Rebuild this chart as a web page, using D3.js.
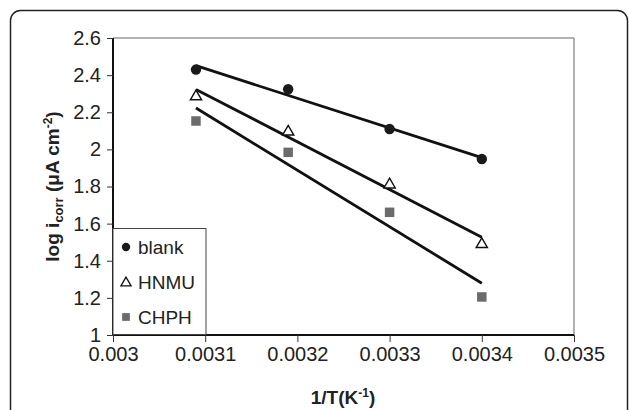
<!DOCTYPE html>
<html>
<head>
<meta charset="utf-8">
<script src="https://cdn.jsdelivr.net/npm/d3@7"></script>
<style>
  body { margin: 0; background: #fff; }
  svg { font-family: "Liberation Sans", Arial, sans-serif; }
</style>
</head>
<body>
<svg width="629" height="410"></svg>
<script>
const invT = [0.00309, 0.00319, 0.0033, 0.0034];
const blank = [2.43, 2.324, 2.11, 1.948];
const hnmu = [2.29, 2.10, 1.815, 1.494];
const chph = [2.153, 1.984, 1.661, 1.205];
const seriesNames = ["blank", "HNMU", "CHPH"];
const xTicks = [0.003, 0.0031, 0.0032, 0.0033, 0.0034, 0.0035];
const yTicks = [1, 1.2, 1.4, 1.6, 1.8, 2, 2.2, 2.4, 2.6];

const svg = d3.select("svg");
const plotL = 113, plotR = 574, plotT = 38, plotB = 335;

// outer frame with rounded corners
svg.append("rect")
  .attr("x", 10.5).attr("y", 10.5)
  .attr("width", 617).attr("height", 430)
  .attr("rx", 10)
  .attr("fill", "none").attr("stroke", "#222").attr("stroke-width", 1.5);

const xScale = d3.scaleLinear().domain([0.003, 0.0035]).range([plotL, plotR]);
const yScale = d3.scaleLinear().domain([1, 2.6]).range([plotB, plotT]);

// plot area border (top / right grey)
svg.append("path")
  .attr("d", `M${plotL},${plotT}H${plotR}V${plotB}`)
  .attr("fill", "none").attr("stroke", "#666").attr("stroke-width", 1);

const xAxis = d3.axisBottom(xScale).tickValues(xTicks).tickSize(7).tickPadding(5)
  .tickFormat(d => String(+d.toFixed(4)));
const yAxis = d3.axisLeft(yScale).tickValues(yTicks).tickSize(6).tickPadding(6)
  .tickFormat(d => String(+d.toFixed(1)));

const gx = svg.append("g").attr("transform", `translate(0,${plotB})`).call(xAxis);
const gy = svg.append("g").attr("transform", `translate(${plotL},0)`).call(yAxis);
[gx, gy].forEach(g => {
  g.select(".domain").attr("stroke", "#111").attr("stroke-width", 2);
  g.selectAll(".tick line").attr("stroke", "#333").attr("stroke-width", 1);
  g.selectAll("text").attr("font-size", 20).attr("fill", "#222")
    .attr("font-family", "Liberation Sans, Arial, sans-serif");
});
gx.select(".domain").attr("d", `M${plotL},0H${plotR}`);
gy.select(".domain").attr("d", `M0,${plotB}V${plotT}`);

// linear trend lines (least squares, like the spreadsheet trendline)
const fit = ys => {
  const n = invT.length, mx = d3.mean(invT), my = d3.mean(ys);
  let sxy = 0, sxx = 0;
  for (let i = 0; i < n; i++) { sxy += (invT[i] - mx) * (ys[i] - my); sxx += (invT[i] - mx) ** 2; }
  const b = sxy / sxx;
  return x => my + b * (x - mx);
};
const line = d3.line().x(d => xScale(d[0])).y(d => yScale(d[1]));
[blank, hnmu, chph].forEach(ys => {
  const f = fit(ys);
  const x0 = invT[0], x1 = invT[invT.length - 1];
  svg.append("path")
    .attr("d", line([[x0, f(x0)], [x1, f(x1)]]))
    .attr("fill", "none").attr("stroke", "#111").attr("stroke-width", 2.8);
});

const circleSym = d3.symbol().type(d3.symbolCircle).size(85);
const triSym = d3.symbol().type(d3.symbolTriangle).size(55);
const sqSym = d3.symbol().type(d3.symbolSquare).size(90);

svg.append("g").selectAll("path").data(invT.map((x, i) => [x, blank[i]])).enter()
  .append("path").attr("d", circleSym)
  .attr("transform", d => `translate(${xScale(d[0])},${yScale(d[1])})`)
  .attr("fill", "#1a1a1a");
svg.append("g").selectAll("path").data(invT.map((x, i) => [x, hnmu[i]])).enter()
  .append("path").attr("d", triSym)
  .attr("transform", d => `translate(${xScale(d[0])},${yScale(d[1]) + 1})`)
  .attr("fill", "#fff").attr("stroke", "#111").attr("stroke-width", 1.4);
svg.append("g").selectAll("path").data(invT.map((x, i) => [x, chph[i]])).enter()
  .append("path").attr("d", sqSym)
  .attr("transform", d => `translate(${xScale(d[0])},${yScale(d[1])})`)
  .attr("fill", "#6b6b6b");

// legend
const lg = svg.append("g");
lg.append("rect").attr("x", 113).attr("y", 228.5).attr("width", 93).attr("height", 106)
  .attr("fill", "#fff").attr("stroke", "#444").attr("stroke-width", 1);
seriesNames.forEach((name, i) => {
  const cy = 247 + i * 35;
  const p = lg.append("path").attr("d", d3.symbol().type([d3.symbolCircle, d3.symbolTriangle, d3.symbolSquare][i]).size([55, 45, 60][i]))
    .attr("transform", `translate(126,${cy + (i === 1 ? 1 : 0)})`);
  if (i === 0) p.attr("fill", "#1a1a1a");
  if (i === 1) p.attr("fill", "#fff").attr("stroke", "#111").attr("stroke-width", 1.3);
  if (i === 2) p.attr("fill", "#6b6b6b");
  lg.append("text").attr("x", 138).attr("y", cy + 7).attr("font-size", 19).attr("fill", "#222").text(name);
});

// axis titles
const xt = svg.append("text").attr("x", 343).attr("y", 404).attr("text-anchor", "middle")
  .attr("font-size", 19).attr("font-weight", "bold").attr("fill", "#222");
xt.append("tspan").text("1/T(K");
xt.append("tspan").attr("font-size", 12).attr("dy", -7).text("-1");
xt.append("tspan").attr("dy", 7).text(")");

const yt = svg.append("text").attr("transform", `translate(59,${(plotT + plotB) / 2}) rotate(-90)`)
  .attr("text-anchor", "middle").attr("font-size", 19).attr("font-weight", "bold").attr("fill", "#222");
yt.append("tspan").text("log i");
yt.append("tspan").attr("font-size", 13).attr("dy", 4).text("corr");
yt.append("tspan").attr("dy", -4).text(" (\u03bcA cm");
yt.append("tspan").attr("font-size", 12).attr("dy", -7).text("-2");
yt.append("tspan").attr("dy", 7).text(")");
</script>
</body>
</html>
